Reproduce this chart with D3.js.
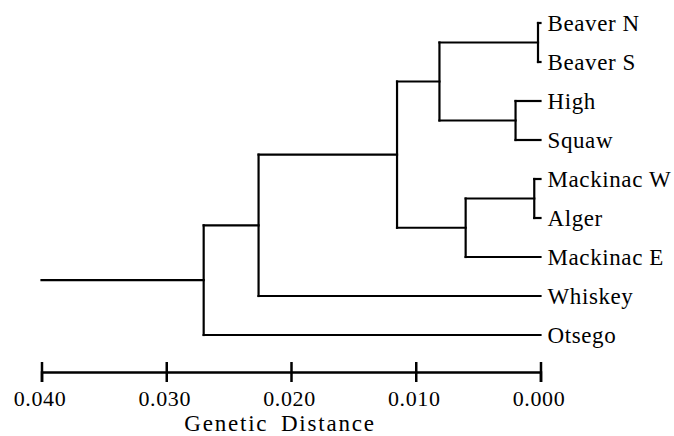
<!DOCTYPE html>
<html>
<head>
<meta charset="utf-8">
<script src="https://cdn.jsdelivr.net/npm/d3@7"></script>
<style>
  body { margin: 0; background: #fff; }
  svg { display: block; }
</style>
</head>
<body>
<svg width="674" height="436"></svg>
<script>
// populations, in the order they are drawn top to bottom
const taxa = ["Beaver N", "Beaver S", "High", "Squaw", "Mackinac W", "Alger", "Mackinac E", "Whiskey", "Otsego"];

// clustering steps: [left, right, genetic distance of the join]
const joins = [
  ["Beaver N", "Beaver S", 0.0002],
  ["High", "Squaw", 0.002],
  ["Mackinac W", "Alger", 0.0005],
  ["n0", "n1", 0.0081],
  ["n2", "Mackinac E", 0.006],
  ["n3", "n4", 0.0115],
  ["n5", "Whiskey", 0.0226],
  ["n6", "Otsego", 0.027]
];
const rootStart = 0.04;

const tickValues = [0.04, 0.03, 0.02, 0.01, 0];
const axisTitle = "Genetic Distance";

const serif = "'Liberation Serif', 'Times New Roman', Times, serif";

const svg = d3.select("svg");
const g = svg.append("g");

const x = d3.scaleLinear().domain([0.04, 0]).range([41.5, 540.5]);
const y = d3.scalePoint().domain(taxa).range([23, 335]);

// positions of every node, leaves first
const nodes = new Map();
taxa.forEach((t) => nodes.set(t, { x: x(0), y: y(t) }));

const lines = [];
joins.forEach((j, i) => {
  const a = nodes.get(j[0]), b = nodes.get(j[1]);
  const nx = x(j[2]);
  const ny = (a.y + b.y) / 2;
  lines.push([nx, a.y, nx, b.y]); // vertical
  lines.push([nx, a.y, a.x, a.y]);
  lines.push([nx, b.y, b.x, b.y]);
  nodes.set("n" + i, { x: nx, y: ny });
});
const root = nodes.get("n" + (joins.length - 1));
lines.push([x(rootStart), root.y, root.x, root.y]);

g.selectAll(".branch")
  .data(lines)
  .enter()
  .append("line")
  .attr("class", "branch")
  .attr("x1", (d) => d[0])
  .attr("y1", (d) => d[1])
  .attr("x2", (d) => d[2])
  .attr("y2", (d) => d[3])
  .attr("stroke", "#000")
  .attr("stroke-width", 2.2)
  .attr("stroke-linecap", "square");

// leaf labels
g.selectAll(".leaf")
  .data(taxa)
  .enter()
  .append("text")
  .attr("class", "leaf")
  .attr("x", x(0) + 7)
  .attr("y", (d) => y(d))
  .attr("dy", "0.35em")
  .attr("fill", "#000")
  .style("font-family", serif)
  .style("font-size", "23px")
  .style("letter-spacing", "0.6px")
  .text((d) => d);

// scale bar
const axisY = 372;
const axis = g
  .append("g")
  .attr("transform", `translate(0,${axisY})`)
  .call(d3.axisBottom(x).tickValues(tickValues).tickSizeOuter(0).tickSize(10).tickFormat(d3.format(".3f")));

axis.select(".domain").attr("stroke", "#000").attr("stroke-width", 2.5);
axis.selectAll(".tick line").attr("y1", -10).attr("y2", 10).attr("stroke", "#000").attr("stroke-width", 2.5);
axis
  .selectAll(".tick text")
  .attr("x", -2)
  .attr("y", 34)
  .attr("dy", null)
  .attr("fill", "#000")
  .style("font-family", serif)
  .style("font-size", "22px")
  .style("letter-spacing", "0.6px");

g.append("text")
  .attr("x", 280)
  .attr("y", 431)
  .attr("text-anchor", "middle")
  .attr("fill", "#000")
  .style("font-family", serif)
  .style("font-size", "23px")
  .style("letter-spacing", "1.8px")
  .style("word-spacing", "5px")
  .text(axisTitle);
</script>
</body>
</html>
